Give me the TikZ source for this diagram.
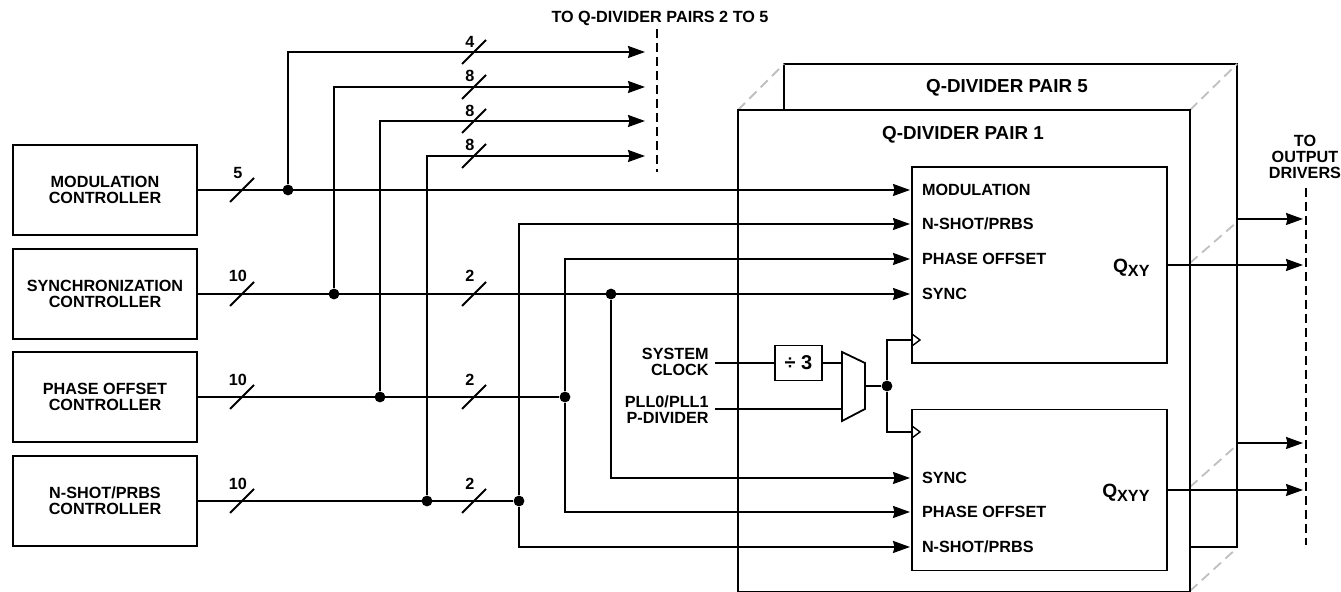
\documentclass[tikz,border=0pt]{standalone}
\usepackage{fontspec}
\setmainfont{Liberation Sans}
\usetikzlibrary{arrows.meta}
\tikzset{
  ctlbox/.style={draw, line width=0.9pt, outer sep=0pt, align=center, minimum width=92pt, minimum height=45pt, font=\fontsize{8.1}{8}\selectfont\bfseries},
  pinlabel/.style={anchor=west, inner xsep=6pt, inner ysep=0pt, outer sep=0pt, text height=5.6pt, text depth=0pt, font=\fontsize{8.1}{8}\selectfont\bfseries},
  textlabel/.style={inner sep=0pt, align=right, font=\fontsize{8.1}{8}\selectfont\bfseries},
  framebox/.style={draw, fill=white, line width=1.2pt, outer sep=0pt},
  modbox/.style={draw, line width=0.9pt, outer sep=0pt},
  sig/.style={line width=0.95pt},
  junction/.style={circle, fill=black, inner sep=0pt, minimum size=5.4pt},
  ghost/.style={line width=0.9pt, draw=black!25, dash pattern=on 5pt off 3pt},
  edgeline/.style={line width=0.7pt, dash pattern=on 4.5pt off 2.5pt}
}
\begin{document}
\begin{tikzpicture}[x=0.5pt, y=-0.5pt, >={Stealth[length=8.5pt,width=6pt,inset=0.8pt]}]
\useasboundingbox (0,0) rectangle (1341,592);

\node[framebox, minimum width=226.5pt, minimum height=241.5pt] (frame5) at (1010.5,305.5) {};
\draw[ghost] (738,110)--(784,64);
\draw[ghost] (1190,110)--(1237,64);
\draw[ghost] (1190,263)--(1237,222);
\draw[ghost] (1190,487)--(1237,445);
\draw[ghost] (1190,591)--(1237,548);
\node[framebox, minimum width=226pt, minimum height=241.2pt] (frame1) at (964,351.2) {};
\node[textlabel, font=\fontsize{9.4}{10}\selectfont\bfseries] (title5) at (1007,88) {Q-DIVIDER PAIR 5};
\node[textlabel, font=\fontsize{9.4}{10}\selectfont\bfseries] (title1) at (963,135) {Q-DIVIDER PAIR 1};

\node[modbox, minimum width=127.5pt, minimum height=98pt] (qmod1) at (1039.5,265) {};
\node[modbox, minimum width=127.5pt, minimum height=80.5pt] (qmod2) at (1039.5,490) {};

\node[ctlbox] (ctlmod) at (105,190) {MODULATION\\CONTROLLER};
\node[ctlbox] (ctlsync) at (105,294) {SYNCHRONIZATION\\CONTROLLER};
\node[ctlbox] (ctlphase) at (105,397) {PHASE OFFSET\\CONTROLLER};
\node[ctlbox] (ctlnshot) at (105,501) {N-SHOT/PRBS\\CONTROLLER};

\node[pinlabel] (pmod) at (910,190) {MODULATION};
\node[pinlabel] (pnshot) at (910,224) {N-SHOT/PRBS};
\node[pinlabel] (pphase) at (910,259) {PHASE OFFSET};
\node[pinlabel] (psync) at (910,294) {SYNC};
\node[pinlabel] (psyncb) at (910,478) {SYNC};
\node[pinlabel] (pphaseb) at (910,512) {PHASE OFFSET};
\node[pinlabel] (pnshotb) at (910,547) {N-SHOT/PRBS};

\node[anchor=east, inner sep=0pt, font=\fontsize{9.6}{10}\selectfont\bfseries] (qxy) at (1150,268) {Q\raisebox{-1.6pt}{\fontsize{8.1}{8}\selectfont XY}};
\node[anchor=east, inner sep=0pt, font=\fontsize{9.6}{10}\selectfont\bfseries] (qxyy) at (1150,493) {Q\raisebox{-1.6pt}{\fontsize{8.1}{8}\selectfont XYY}};

\node[junction] (dmod) at (288,190) {};
\node[junction] (dsync) at (334,294) {};
\node[junction] (dphase) at (380,397) {};
\node[junction] (dnshot) at (427,501) {};
\node[junction] (dsyncb) at (611,294) {};
\node[junction] (dphaseb) at (565,397) {};
\node[junction] (dnshotb) at (519,501) {};
\node[junction] (dclk) at (887,386) {};

\coordinate (to1) at (645,52);
\coordinate (to2) at (645,87);
\coordinate (to3) at (645,121);
\coordinate (to4) at (645,156);

\draw[sig, ->] (ctlmod.east)--(pmod.west);
\draw[sig, ->] (ctlsync.east)--(psync.west);
\draw[sig] (ctlphase.east)--(dphaseb);
\draw[sig] (ctlnshot.east)--(dnshotb);

\draw[sig, ->] (dmod)|-(to1);
\draw[sig, ->] (dsync)|-(to2);
\draw[sig, ->] (dphase)|-(to3);
\draw[sig, ->] (dnshot)|-(to4);

\draw[sig, ->] (dnshotb)|-(pnshot.west);
\draw[sig, ->] (dnshotb)|-(pnshotb.west);
\draw[sig, ->] (dphaseb)|-(pphase.west);
\draw[sig, ->] (dphaseb)|-(pphaseb.west);
\draw[sig, ->] (dsyncb)|-(psyncb.west);

\foreach \px/\py/\lift/\val [count=\i] in {242/190/17/5, 242/294/18/10, 242/397/17/10, 242/501/17/10, 474/52/10/4, 474/87/11/8, 474/121/10/8, 474/156/11/8, 474/294/18/2, 474/397/17/2, 474/501/17/2}{
  \draw[sig] (\px-12,\py+12)--(\px+12,\py-12);
  \node[textlabel] (bus\i) at (\px-4,\py-\lift) {\val};
}

\node[textlabel] (topnote) at (660,18) {TO Q-DIVIDER PAIRS 2 TO 5};
\draw[edgeline] (657,29)--(657,172);
\node[textlabel, align=center] (outnote) at (1305,157) {TO\\OUTPUT\\DRIVERS};
\draw[edgeline] (1306,188)--(1306,545);

\coordinate (out1) at (1303,219);
\coordinate (out2) at (1303,265);
\coordinate (out3) at (1303,443);
\coordinate (out4) at (1303,490);
\draw[sig, ->] (frame5.east |- out1)--(out1);
\draw[sig, ->] (qmod1.east)--(out2);
\draw[sig, ->] (frame5.east |- out3)--(out3);
\draw[sig, ->] (qmod2.east)--(out4);

\node[textlabel, anchor=east] (sysclk) at (709,362) {SYSTEM\\CLOCK};
\node[textlabel, anchor=east] (pllclk) at (709,410) {PLL0/PLL1\\P-DIVIDER};
\node[modbox, minimum width=23.5pt, minimum height=17.5pt, font=\fontsize{10}{10}\selectfont\bfseries] (divthree) at (798.5,363) {÷ 3};

\coordinate (muxa) at (842,352);
\coordinate (muxb) at (865,363);
\coordinate (muxc) at (865,409);
\coordinate (muxd) at (842,421);
\draw[modbox] (muxa)--(muxb)--(muxc)--(muxd)--cycle;
\coordinate (muxin) at (842,409);
\coordinate (muxout) at (865,386);

\draw[sig] (715,363)--(divthree.west);
\draw[sig] (divthree.east)--(divthree.east -| muxa);
\draw[sig] (715,409)--(muxin);
\draw[sig] (muxout)--(dclk);

\coordinate (clka) at (912,340);
\coordinate (clkb) at (912,432);
\draw[sig] (dclk)|-(clka);
\draw[sig] (dclk)|-(clkb);
\draw[line width=0.7pt] (912,334)--(920,340)--(912,346);
\draw[line width=0.7pt] (912,426)--(920,432)--(912,438);
\end{tikzpicture}
\end{document}
